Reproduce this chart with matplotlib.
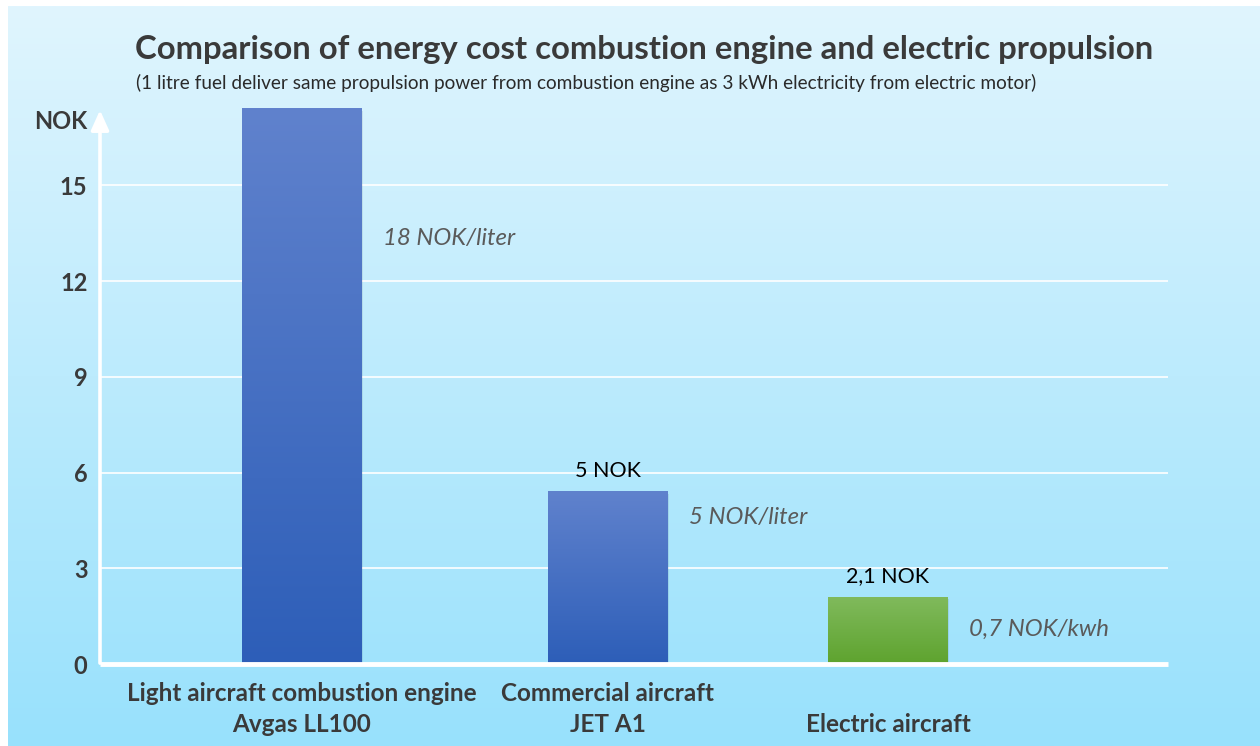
import matplotlib.pyplot as plt
import numpy as np

plt.rcParams['font.family'] = ['Lato', 'DejaVu Sans']

# data
categories = ['Light aircraft combustion engine\nAvgas LL100',
              'Commercial aircraft\nJET A1',
              'Electric aircraft']
positions = [1.0, 2.0, 2.915]
values = [17.4, 5.4, 2.1]
value_labels = ['', '5 NOK', '2,1 NOK']
price_notes = ['18 NOK/liter', '5 NOK/liter', '0,7 NOK/kwh']
note_y = [13.35, 4.6, 1.1]
yticks = [0, 3, 6, 9, 12, 15]

fig = plt.figure(figsize=(12.6, 7.46), dpi=100)

# background gradient panel
bg = fig.add_axes([8 / 1260, 0, 1 - 8 / 1260, 1 - 6 / 746], zorder=0)
top = np.array([224, 245, 254]) / 255
bot = np.array([152, 225, 252]) / 255
t = np.linspace(0, 1, 256)[:, None]
grad = (top * (1 - t) + bot * t)[:, None, :]
bg.imshow(grad, aspect='auto', extent=[0, 1, 0, 1])
bg.axis('off')

ax = fig.add_axes([100 / 1260, 1 - 664 / 746, 1068 / 1260, 564 / 746], zorder=1)
ax.patch.set_alpha(0)

for y in yticks[1:]:
    ax.axhline(y, color='white', lw=1.2, zorder=1)

width = 0.39
colors_top = [(96, 130, 205), (96, 130, 205), (128, 186, 92)]
colors_bot = [(45, 94, 184), (45, 94, 184), (94, 163, 46)]
bars = ax.bar(positions, values, width=width, color='none', zorder=3)
for b, ct, cb in zip(bars, colors_top, colors_bot):
    ct = np.array(ct) / 255
    cb = np.array(cb) / 255
    g = (ct * (1 - t) + cb * t)[:, None, :]
    x0, w, h = b.get_x(), b.get_width(), b.get_height()
    # soft shadow
    ax.bar(x0 + w / 2 + 0.005, h, width=w, bottom=-0.06, color='black',
           alpha=0.07, zorder=2)
    ax.imshow(g, aspect='auto', extent=[x0, x0 + w, 0, h], zorder=3)

ax.set_xlim(0.34, 3.83)
ax.set_ylim(0, 17.68)

# axes lines: white arrow and baseline
ax.plot([0.34, 3.83], [0, 0], color='white', lw=3.5, zorder=4,
        solid_capstyle='butt', clip_on=False)
ax.annotate('', xy=(0.34, 17.45), xytext=(0.34, -0.06),
            arrowprops=dict(arrowstyle='-|>,head_width=0.27,head_length=0.6',
                            mutation_scale=20, color='white', lw=2.6),
            zorder=4, annotation_clip=False)

for sp in ax.spines.values():
    sp.set_visible(False)
ax.set_yticks(yticks)
ax.set_yticklabels([str(v) for v in yticks], fontsize=17, fontweight='bold',
                   color='#3a3a3a')
ax.tick_params(axis='y', length=0, pad=9)
ax.set_xticks([])
ax.text(0.298, 17.0, 'NOK', ha='right', va='center', fontsize=17,
        fontweight='bold', color='#3a3a3a')

for p, c in zip(positions[:2], categories[:2]):
    ax.text(p, -0.55, c, ha='center', va='top', fontsize=17.5, fontweight='bold',
            color='#3a3a3a', linespacing=1.45)
ax.text(positions[2], -1.55, categories[2], ha='center', va='top', fontsize=17.5,
        fontweight='bold', color='#3a3a3a')

for p, v, lab in zip(positions, values, value_labels):
    if lab:
        ax.text(p, v + 0.35, lab, ha='center', va='bottom', fontsize=15.5,
                color='black')

for p, y, note in zip(positions, note_y, price_notes):
    ax.text(p + width / 2 + 0.07, y, note, ha='left', va='center',
            fontsize=17.3, style='italic', color='#5a5a5a')

fig.text(644 / 1260, 1 - 49 / 746, 'Comparison of energy cost combustion engine and electric propulsion',
         ha='center', va='center', fontsize=23.7, fontweight='bold', color='#3a3a3a')
fig.text(136 / 1260, 1 - 83 / 746,
         '(1 litre fuel deliver same propulsion power from combustion engine as 3 kWh electricity from electric motor)',
         ha='left', va='center', fontsize=13.7, color='#2a2a2a')

plt.savefig('out.png', dpi=100)
